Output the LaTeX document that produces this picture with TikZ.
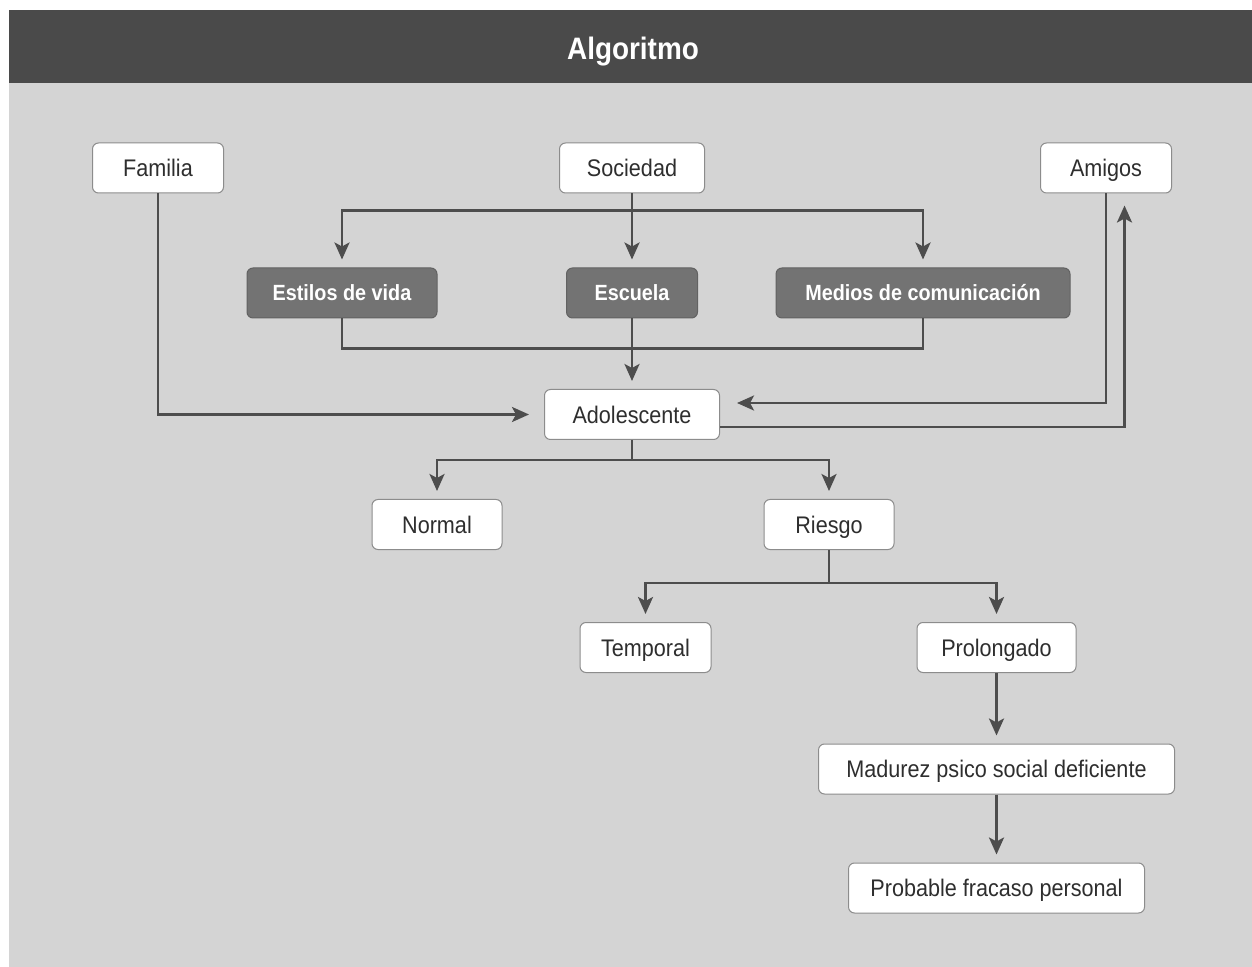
\documentclass[tikz,border=0pt]{standalone}
\usepackage{fontspec}
\setmainfont{Liberation Sans}[FakeStretch=0.9]
\usetikzlibrary{positioning,arrows.meta}
\definecolor{bggray}{HTML}{D4D4D4}
\definecolor{hdgray}{HTML}{4A4A4A}
\definecolor{boxgray}{HTML}{737373}
\definecolor{linegray}{HTML}{4D4D4D}
\definecolor{rimgray}{HTML}{8C8C8C}
\definecolor{txtgray}{HTML}{2E2E2E}

\tikzset{
  box/.style={draw=rimgray, line width=0.5pt, fill=white, rounded corners=3pt,
    minimum height=25pt, inner sep=0pt, text height=8.6pt, text depth=0pt,
    text=txtgray, font=\fontsize{12}{14}\selectfont},
  darkbox/.style={box, fill=boxgray, draw=boxgray!85!black, text=white,
    text height=7.9pt, text depth=0pt, font=\fontsize{11}{13}\selectfont\bfseries},
  link/.style={draw=linegray, line width=1.35pt},
  arr/.style={link, -{Stealth[length=8.5pt,width=7.5pt,inset=2pt]}, shorten >=4pt},
}

\begin{document}
\begin{tikzpicture}[on grid]
  \useasboundingbox (0,0) rectangle (626pt,-483.5pt);
  \fill[bggray] (4.5pt,-5pt) rectangle (626pt,-483.5pt);
  \fill[hdgray] (4.5pt,-5pt) rectangle (626pt,-41.5pt);
  \node[text=white, text height=11pt, text depth=0pt, inner sep=0pt,
    font=\fontsize{15.5}{18}\selectfont\bfseries] (title) at (316.5pt,-24.25pt) {Algoritmo};

  \node[box, minimum width=72.5pt] (soc) at (316pt,-84pt) {Sociedad};
  \node[box, minimum width=65.5pt, left=237pt of soc] (fam) {Familia};
  \node[box, minimum width=65.5pt, right=237pt of soc] (ami) {Amigos};

  \node[darkbox, minimum width=65.5pt, below=62.5pt of soc] (esc) {Escuela};
  \node[darkbox, minimum width=95pt, left=145pt of esc] (est) {Estilos de vida};
  \node[darkbox, minimum width=147pt, right=145.5pt of esc] (med) {Medios de comunicación};

  \node[box, minimum width=87.5pt, below=60.75pt of esc] (adol) {Adolescente};

  \coordinate (bus1) at ([yshift=-8.5pt]soc.south);
  \draw[link] (soc) -- (bus1);
  \draw[arr] (bus1) -| (est);
  \draw[arr] (bus1) -| (med);
  \draw[arr] (soc) -- (esc);

  \coordinate (bus2) at ([yshift=-15pt]esc.south);
  \draw[link] (est) |- (bus2) -| (med);
  \draw[arr] (esc) -- (adol);

  \draw[arr, shorten >=7.5pt] (fam) |- (adol);
  \draw[arr, shorten >=8.5pt] (ami) |- ([yshift=5.75pt]adol.east);
  \draw[arr, shorten >=6pt] ([yshift=-6.25pt]adol.east) -| ([xshift=9.25pt]ami.south);

  \node[box, minimum width=65pt, below left=55pt and 97.5pt of adol] (norm) {Normal};
  \node[box, minimum width=65pt, below right=55pt and 98.5pt of adol] (ries) {Riesgo};
  \coordinate (bus3) at ([yshift=-10pt]adol.south);
  \draw[link] (adol) -- (bus3);
  \draw[arr] (bus3) -| (norm);
  \draw[arr] (bus3) -| (ries);

  \node[box, minimum width=65.5pt, below left=61.5pt and 91.75pt of ries] (temp) {Temporal};
  \node[box, minimum width=79.5pt, below right=61.5pt and 83.75pt of ries] (prol) {Prolongado};
  \coordinate (bus4) at ([yshift=-16.5pt]ries.south);
  \draw[link] (ries) -- (bus4);
  \draw[arr] (bus4) -| (temp);
  \draw[arr] (bus4) -| (prol);

  \node[box, minimum width=178pt, below=60.75pt of prol] (mad) {Madurez psico social deficiente};
  \node[box, minimum width=148pt, below=59.5pt of mad] (prob) {Probable fracaso personal};
  \draw[arr] (prol) -- (mad);
  \draw[arr] (mad) -- (prob);
\end{tikzpicture}
\end{document}
